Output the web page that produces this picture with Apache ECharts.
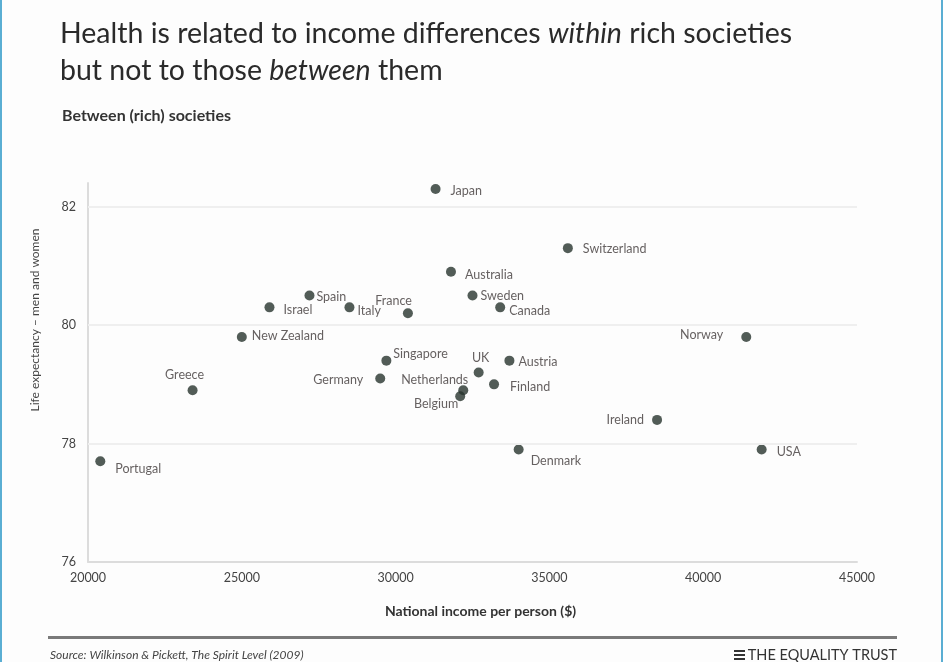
<!DOCTYPE html>
<html><head><meta charset="utf-8">
<script src="https://cdn.jsdelivr.net/npm/echarts@6/dist/echarts.min.js"></script>
<style>html,body{margin:0;padding:0;background:#fff}#c{width:943px;height:662px}</style>
</head><body><div id="c"></div>
<script>
// ---- data ----
const countries = ['Japan','Switzerland','Australia','Spain','Israel','Italy','France','Sweden','Canada','New Zealand','Norway','Singapore','UK','Austria','Germany','Netherlands','Belgium','Finland','Ireland','Denmark','USA','Greece','Portugal'];
const income = [31300,35600,31800,27200,25900,28500,30400,32500,33400,25000,41400,29700,32700,33700,29500,32200,32100,33200,38500,34000,41900,23400,20400];
const lifeExpectancy = [82.3,81.3,80.9,80.5,80.3,80.3,80.2,80.5,80.3,79.8,79.8,79.4,79.2,79.4,79.1,78.9,78.8,79.0,78.4,77.9,77.9,78.9,77.7];
const xTicks = [20000,25000,30000,35000,40000,45000];
const yTicks = [76,78,80,82];

// ---- label placement (style, not data): [dx, dy, align] relative to dot centre ----
const labelPlace = {
  'Japan':[15,2,'left'], 'Switzerland':[15,1,'left'], 'Australia':[14,3,'left'],
  'Spain':[7,1,'left'], 'Israel':[14,3,'left'], 'Italy':[8,4,'left'],
  'France':[4,-12,'right'], 'Sweden':[8,0,'left'], 'Canada':[9,4,'left'],
  'New Zealand':[10,-1,'left'], 'Norway':[-23,-2,'right'], 'Singapore':[7,-7,'left'],
  'UK':[2,-15,'center'], 'Austria':[9,1,'left'], 'Germany':[-17,2,'right'],
  'Netherlands':[5,-10,'right'], 'Belgium':[-2,8,'right'], 'Finland':[16,3,'left'],
  'Ireland':[-13,0,'right'], 'Denmark':[12,11,'left'], 'USA':[15,2,'left'],
  'Greece':[-8,-15,'center'], 'Portugal':[15,8,'left']
};

const FONT = 'Lato, "Open Sans", sans-serif';
const points = countries.map((c, i) => {
  const p = labelPlace[c];
  return {
    name: c,
    value: [income[i], lifeExpectancy[i]],
    label: { position: 'inside', offset: [p[0], p[1]], align: p[2], verticalAlign: 'middle' }
  };
});

const chart = echarts.init(document.getElementById('c'), null, {renderer: 'canvas'});
chart.setOption({
  backgroundColor: '#fdfdfd',
  animation: false,
  textStyle: { fontFamily: FONT },
  title: [{
    text: 'Health is related to income differences {i|within} rich societies\nbut not to those {i|between} them',
    left: 55, top: 10,
    textStyle: {
      fontFamily: FONT, fontSize: 28.5, fontWeight: 'normal', color: '#2a2a2a', lineHeight: 37,
      rich: { i: { fontFamily: FONT, fontSize: 28.5, fontStyle: 'italic', color: '#2a2a2a', lineHeight: 37 } }
    }
  }, {
    text: 'Between (rich) societies',
    left: 57, top: 103,
    textStyle: { fontFamily: FONT, fontSize: 16, fontWeight: 'bold', color: '#333' }
  }],
  grid: { left: 88, right: 86, top: 183, bottom: 100, containLabel: false },
  xAxis: {
    type: 'value', min: 20000, max: 45000, interval: 5000,
    name: 'National income per person ($)', nameLocation: 'middle', nameGap: 42,
    nameTextStyle: { fontFamily: FONT, fontSize: 14, fontWeight: 'bold', color: '#333', padding: [0, 0, 0, 16] },
    axisLine: { show: true, lineStyle: { color: '#dcdcdc', width: 2 } },
    axisTick: { show: false },
    splitLine: { show: false },
    axisLabel: {
      fontFamily: FONT, fontSize: 12.5, color: '#444', margin: 9,
      formatter: v => xTicks.includes(v) ? String(v) : ''
    }
  },
  yAxis: {
    type: 'value', min: 76, max: 82.4, interval: 2,
    axisLine: { show: true, lineStyle: { color: '#dcdcdc', width: 2 } },
    axisTick: { show: false },
    splitLine: { show: false },
    axisLabel: {
      fontFamily: FONT, fontSize: 12.5, color: '#444', margin: 12,
      formatter: v => yTicks.includes(v) ? String(v) : ''
    }
  },
  series: [{
    type: 'scatter',
    data: points,
    symbol: 'circle',
    symbolSize: 10,
    itemStyle: { color: '#27332d' },
    label: {
      show: true, formatter: '{b}',
      fontFamily: FONT, fontSize: 12.5, color: '#3f3838'
    },
    emphasis: { disabled: true },
    markLine: {
      silent: true, symbol: 'none', label: { show: false },
      lineStyle: { color: '#efefef', width: 2, type: 'solid' },
      data: yTicks.filter(v => v > 76).map(v => ({ yAxis: v }))
    },
    z: 3
  }],
  graphic: [
    { type: 'text', x: 35, y: 320, rotation: Math.PI / 2,
      style: { text: 'Life expectancy – men and women', font: '12px ' + FONT, fill: '#444', align: 'center', verticalAlign: 'middle' } },
    { type: 'rect', shape: { x: 48, y: 636, width: 849, height: 3 }, style: { fill: '#7a7a7a' } },
    { type: 'text', x: 50, y: 655,
      style: { text: 'Source: Wilkinson & Pickett, The Spirit Level (2009)', font: 'italic 12px ' + FONT, fill: '#444', verticalAlign: 'middle' } },
    { type: 'text', x: 897, y: 655,
      style: { text: 'THE EQUALITY TRUST', font: '14.5px ' + FONT, fill: '#333', align: 'right', verticalAlign: 'middle' } },
    { type: 'rect', shape: { x: 734, y: 650, width: 11, height: 2 }, style: { fill: '#333' } },
    { type: 'rect', shape: { x: 734, y: 654, width: 11, height: 2 }, style: { fill: '#333' } },
    { type: 'rect', shape: { x: 734, y: 658, width: 11, height: 2 }, style: { fill: '#333' } },
    { type: 'rect', shape: { x: 0, y: 0, width: 2, height: 662 }, style: { fill: '#5aaed3' } },
    { type: 'rect', shape: { x: 941, y: 0, width: 2, height: 662 }, style: { fill: '#5aaed3' } }
  ]
});
</script></body></html>
